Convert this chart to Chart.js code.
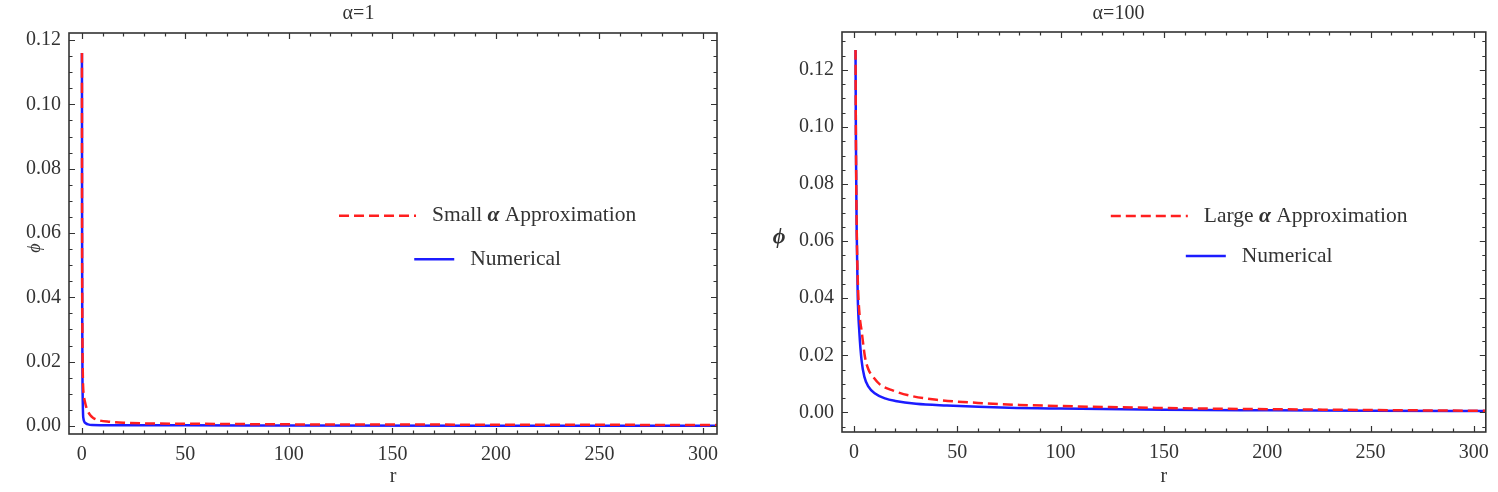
<!DOCTYPE html>
<html>
<head>
<meta charset="utf-8">
<title>phi vs r</title>
<script src="https://cdn.jsdelivr.net/npm/chart.js@4.4.1/dist/chart.umd.min.js"></script>
<style>
  html, body { margin: 0; padding: 0; background: #fff; }
  #wrap { position: relative; width: 1498px; height: 492px; }
  .box { position: absolute; top: 0; width: 749px; height: 492px; }
</style>
</head>
<body>
<div id="wrap">
  <div class="box" style="left:0"><canvas id="chartSmall"></canvas></div>
  <div class="box" style="left:749px"><canvas id="chartLarge"></canvas></div>
</div>
<script>
// alpha = 1 : numerical solution
const rSmallNum   = [0.05, 0.1, 0.15, 0.2, 0.3, 0.45, 0.6, 0.8, 1.2, 2, 3, 5, 10, 20, 50, 100, 200, 310];
const phiSmallNum = [0.116, 0.08, 0.052, 0.033, 0.016, 0.0075, 0.0035, 0.0022, 0.0013, 0.0008, 0.0005, 0.0003, 0.00025, 0.0002, 0.0002, 0.00015, 0.0001, 0.0001];
// alpha = 1 : small alpha approximation
const rSmallApp   = [0.05, 0.1, 0.2, 0.3, 0.45, 0.6, 0.9, 1.5, 2, 3, 4, 5.5, 8, 13.5, 20, 30, 50, 100, 200, 310];
const phiSmallApp = [0.116, 0.07, 0.04, 0.026, 0.017, 0.0125, 0.0098, 0.0075, 0.0062, 0.0045, 0.0034, 0.0025, 0.0018, 0.0013, 0.001, 0.0008, 0.0007, 0.0005, 0.0004, 0.0003];

// alpha = 100 : numerical solution
const rLargeNum   = [0.75, 0.9, 1.1, 1.3, 1.8, 2.6, 3.7, 5, 7, 10, 15, 20, 30, 45, 75, 100, 150, 200, 250, 310];
const phiLargeNum = [0.127, 0.1, 0.08, 0.064, 0.041, 0.028, 0.018, 0.0125, 0.009, 0.0067, 0.0049, 0.004, 0.003, 0.0024, 0.0016, 0.0013, 0.0009, 0.0007, 0.00055, 0.00043];
// alpha = 100 : large alpha approximation
const rLargeApp   = [0.75, 0.9, 1.1, 1.3, 1.8, 2.6, 3.7, 5.3, 7, 9.3, 12.5, 19, 28, 40, 60, 80, 100, 150, 200, 250, 310];
const phiLargeApp = [0.127, 0.1, 0.08, 0.066, 0.047, 0.035, 0.0285, 0.0195, 0.015, 0.0124, 0.0098, 0.0076, 0.0057, 0.0044, 0.0033, 0.0026, 0.0022, 0.0015, 0.0011, 0.0008, 0.0005];

// axis ticks
const xTickStep = 50, xMinorStep = 10;
const yTickStep = 0.02, yMinorStep = 0.005;

const SERIF = "'Liberation Serif', 'Times New Roman', serif";
const INK = '#333';
const RED = '#ff1f1f';
const BLUE = '#1c1cff';

function toPoints(xs, ys) {
    return xs.map((x, i) => ({ x: x, y: ys[i] }));
}

// Frame with inward major / minor ticks on all four sides
const frameTicks = {
    id: 'frameTicks',
    afterDatasetsDraw(chart) {
        const { ctx, chartArea: a, scales: { x, y } } = chart;
        ctx.save();
        ctx.strokeStyle = INK;
        ctx.lineWidth = 1.2;
        ctx.beginPath();
        for (let k = Math.ceil(x.min / xMinorStep); k * xMinorStep <= x.max; k++) {
            const px = Math.round(x.getPixelForValue(k * xMinorStep)) + 0.5;
            const len = (k * xMinorStep) % xTickStep === 0 ? 6 : 3.5;
            ctx.moveTo(px, a.bottom); ctx.lineTo(px, a.bottom - len);
            ctx.moveTo(px, a.top); ctx.lineTo(px, a.top + len);
        }
        const ratio = Math.round(yTickStep / yMinorStep);
        for (let k = Math.ceil(y.min / yMinorStep); k * yMinorStep <= y.max + 1e-12; k++) {
            const py = Math.round(y.getPixelForValue(k * yMinorStep)) + 0.5;
            const len = k % ratio === 0 ? 6 : 3.5;
            ctx.moveTo(a.left, py); ctx.lineTo(a.left + len, py);
            ctx.moveTo(a.right, py); ctx.lineTo(a.right - len, py);
        }
        ctx.stroke();
        ctx.lineWidth = 1.6;
        ctx.strokeRect(a.left, a.top, a.right - a.left, a.bottom - a.top);
        ctx.restore();
    }
};

// Legend drawn inside the plot, rows centred on one x position
const innerLegend = {
    id: 'innerLegend',
    afterDraw(chart, args, opts) {
        const { ctx, chartArea: a } = chart;
        const cx = a.left + opts.cx * (a.right - a.left);
        ctx.save();
        chart.data.datasets.forEach((ds, i) => {
            const cy = a.top + opts.rows[i] * (a.bottom - a.top);
            const parts = ds.label.split('α');
            const normal = '21.5px ' + SERIF;
            const greek = 'italic bold 21.5px ' + SERIF;
            let textW = 0;
            parts.forEach((p, j) => {
                ctx.font = normal;
                textW += ctx.measureText(p).width;
                if (j < parts.length - 1) {
                    ctx.font = greek;
                    textW += ctx.measureText('α').width;
                }
            });
            const len = opts.lengths[i];
            const gap = 16;
            let x0 = cx - (len + gap + textW) / 2;
            ctx.strokeStyle = ds.borderColor;
            ctx.lineWidth = ds.borderWidth;
            ctx.setLineDash(ds.borderDash || []);
            ctx.beginPath();
            ctx.moveTo(x0, cy); ctx.lineTo(x0 + len, cy);
            ctx.stroke();
            ctx.setLineDash([]);
            let tx = x0 + len + gap;
            ctx.fillStyle = INK;
            ctx.textBaseline = 'middle';
            parts.forEach((p, j) => {
                ctx.font = normal;
                ctx.fillText(p, tx, cy);
                tx += ctx.measureText(p).width;
                if (j < parts.length - 1) {
                    ctx.font = greek;
                    ctx.fillText('α', tx, cy);
                    tx += ctx.measureText('α').width;
                }
            });
        });
        ctx.restore();
    }
};

// y label, drawn at a set spot (rotated on the left panel, upright on the right)
const yLabel = {
    id: 'yLabel',
    afterDraw(chart, args, opts) {
        if (!opts.text) return;
        const ctx = chart.ctx;
        ctx.save();
        ctx.translate(opts.x, opts.y);
        if (opts.rotate) ctx.rotate(-Math.PI / 2);
        ctx.font = opts.font;
        ctx.fillStyle = INK;
        ctx.textAlign = 'center';
        ctx.textBaseline = 'middle';
        ctx.fillText(opts.text, 0, 0);
        ctx.restore();
    }
};

function makeChart(id, cfg) {
    const ctx = document.getElementById(id);
    return new Chart(ctx, {
        type: 'line',
        data: {
            datasets: [{
                label: cfg.approxLabel,
                data: toPoints(cfg.rApp, cfg.phiApp),
                borderColor: RED,
                borderWidth: 2.5,
                borderDash: [10, 5],
                pointRadius: 0,
                cubicInterpolationMode: 'monotone',
                fill: false
            }, {
                label: 'Numerical',
                data: toPoints(cfg.rNum, cfg.phiNum),
                borderColor: BLUE,
                borderWidth: 2.5,
                pointRadius: 0,
                cubicInterpolationMode: 'monotone',
                fill: false
            }]
        },
        options: {
            responsive: true,
            maintainAspectRatio: false,
            animation: false,
            layout: { padding: { left: 0, right: cfg.padRight, top: 0, bottom: 0 } },
            plugins: {
                legend: { display: false },
                tooltip: { enabled: false },
                title: {
                    display: true,
                    text: cfg.title,
                    color: INK,
                    font: { family: SERIF, size: 20, weight: 'normal' },
                    padding: { top: 2, bottom: cfg.titleGap }
                },
                innerLegend: cfg.legend,
                yLabel: cfg.yLabel
            },
            scales: {
                x: {
                    type: 'linear',
                    min: cfg.xMin,
                    max: cfg.xMax,
                    afterFit: function(scale) { scale.height = cfg.xAxisHeight; },
                    grid: { drawOnChartArea: false, drawTicks: false, display: false },
                    border: { display: false },
                    ticks: {
                        stepSize: xTickStep,
                        includeBounds: false,
                        padding: 9,
                        color: INK,
                        maxRotation: 0,
                        font: { family: SERIF, size: 20 },
                        callback: v => String(v)
                    },
                    title: {
                        display: true,
                        text: 'r',
                        color: INK,
                        font: { family: SERIF, size: 20 },
                        padding: { top: 0, bottom: 3 }
                    }
                },
                y: {
                    min: cfg.yMin,
                    max: cfg.yMax,
                    afterFit: function(scale) { scale.width = cfg.yAxisWidth; },
                    grid: { drawOnChartArea: false, drawTicks: false, display: false },
                    border: { display: false },
                    ticks: {
                        stepSize: yTickStep,
                        includeBounds: false,
                        padding: 8,
                        color: INK,
                        font: { family: SERIF, size: 20 },
                        callback: v => Number(v).toFixed(2)
                    }
                }
            }
        },
        plugins: [frameTicks, innerLegend, yLabel]
    });
}

makeChart('chartSmall', {
    title: 'α=1',
    approxLabel: 'Small α Approximation',
    rApp: rSmallApp, phiApp: phiSmallApp,
    rNum: rSmallNum, phiNum: phiSmallNum,
    xMin: -6.2, xMax: 306.8,
    yMin: -0.0025, yMax: 0.1222,
    padRight: 32, titleGap: 7,
    xAxisHeight: 58, yAxisWidth: 69,
    legend: { cx: 0.646, rows: [0.456, 0.564], lengths: [77, 40] },
    yLabel: { text: 'ϕ', x: 35, y: 248, rotate: true, font: 'italic 18px ' + SERIF }
});

makeChart('chartLarge', {
    title: 'α=100',
    approxLabel: 'Large α Approximation',
    rApp: rLargeApp, phiApp: phiLargeApp,
    rNum: rLargeNum, phiNum: phiLargeNum,
    xMin: -5.8, xMax: 305.8,
    yMin: -0.0069, yMax: 0.1333,
    padRight: 10, titleGap: 6,
    xAxisHeight: 60, yAxisWidth: 93,
    legend: { cx: 0.648, rows: [0.46, 0.56], lengths: [77, 40] },
    yLabel: { text: 'ϕ', x: 30, y: 237, rotate: false, font: 'italic bold 22px ' + SERIF }
});
</script>
</body>
</html>
